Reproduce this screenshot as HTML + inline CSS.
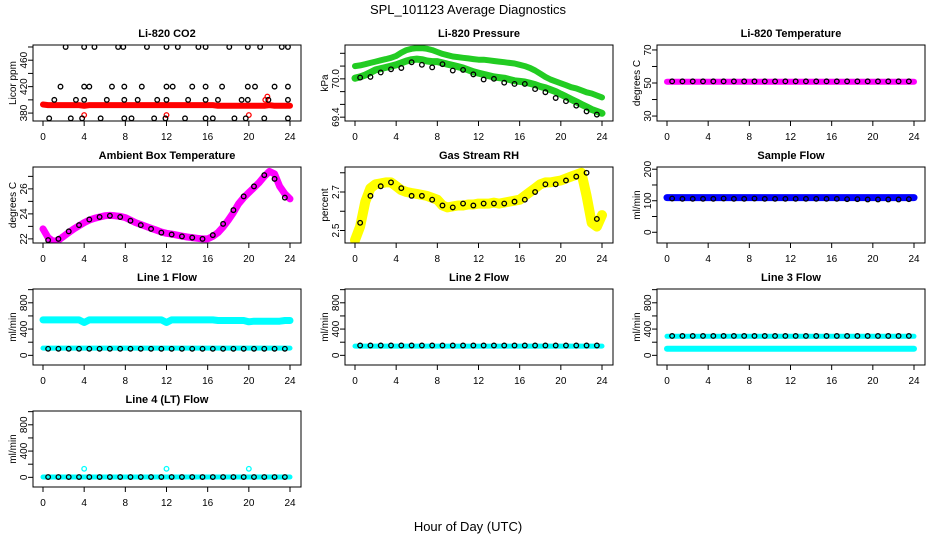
<!DOCTYPE html>
<html><head><meta charset="utf-8"><style>
html,body{margin:0;padding:0;background:#fff}
svg{display:block;font-family:"Liberation Sans",sans-serif}
</style></head><body>
<svg id="chart" width="936" height="540" viewBox="0 0 936 540">
<text x="468" y="14" text-anchor="middle" font-size="13">SPL_101123  Average Diagnostics</text>
<text x="468" y="531" text-anchor="middle" font-size="13">Hour of Day (UTC)</text>
</svg>
<script>
// ---- data ----
const xTicks = [0,4,8,12,16,20,24];
const T49 = [0,0.5,1,1.5,2,2.5,3,3.5,4,4.5,5,5.5,6,6.5,7,7.5,8,8.5,9,9.5,10,10.5,11,11.5,12,12.5,13,13.5,14,14.5,15,15.5,16,16.5,17,17.5,18,18.5,19,19.5,20,20.5,21,21.5,22,22.5,23,23.5,24];
const Thr = [0.5,1.5,2.5,3.5,4.5,5.5,6.5,7.5,8.5,9.5,10.5,11.5,12.5,13.5,14.5,15.5,16.5,17.5,18.5,19.5,20.5,21.5,22.5,23.5];

const co2Red = [393,392,392,392,392,392,392,392,391,392,392,392,392,392,392,392,392,392,392,392,392,392,392,392,392,392,392,392,392,392,392,392,392,392,391,391,391,391,391,391,391,391,391,391,392,391,391,391,391];
const co2RedOutT = [4,12,20,21.6,21.8];
const co2RedOut = [377,377,377,400,405];
const co2BlackT = [2.2,4,5,7.3,7.8,10.1,12,13.1,15.1,15.8,18.1,19.9,21.1,23.2,23.8, 1.7,4,4.5,6.7,7.9,9.6,12,12.6,14.5,15.8,17.4,19.9,20.6,22.5,23.8, 1.1,3.2,4,6.2,7.9,9.2,11.1,12,14.1,15.8,17,19.3,19.9,21.9,23.8, 0.6,2.7,3.8,5.6,7.9,8.6,10.8,11.9,13.8,15.8,16.5,18.6,19.7,21.5,23.8];
const co2Black = [480,480,480,480,480,480,480,480,480,480,480,480,480,480,480, 420,420,420,420,420,420,420,420,420,420,420,420,420,420,420, 400,400,400,400,400,400,400,400,400,400,400,400,400,400,400, 372,372,372,372,372,372,372,372,372,372,372,372,372,372,372];

const presUpper = [70.20,70.21,70.23,70.25,70.27,70.29,70.31,70.33,70.36,70.41,70.45,70.47,70.48,70.48,70.47,70.45,70.42,70.39,70.37,70.35,70.34,70.33,70.32,70.31,70.30,70.30,70.29,70.28,70.27,70.26,70.25,70.24,70.22,70.20,70.17,70.13,70.08,70.03,69.99,69.96,69.93,69.90,69.87,69.85,69.82,69.79,69.77,69.74,69.71];
const presLower = [70.01,70.03,70.06,70.10,70.14,70.16,70.18,70.20,70.22,70.25,70.28,70.30,70.31,70.30,70.28,70.27,70.27,70.25,70.23,70.21,70.19,70.17,70.14,70.11,70.09,70.07,70.05,70.03,70.02,70.01,69.99,69.97,69.96,69.95,69.93,69.91,69.88,69.86,69.83,69.80,69.76,69.72,69.68,69.64,69.60,69.56,69.52,69.49,69.46];
const presBlack = [70.02,70.03,70.10,70.15,70.17,70.26,70.22,70.18,70.23,70.13,70.14,70.07,69.99,70.00,69.94,69.92,69.92,69.84,69.79,69.70,69.65,69.58,69.49,69.44];

const tempMag = Array(49).fill(50.8);
const tempBlack = [51,51,51,51,51,51,51,51,51,51,51,51,51,51,51,51,51,51,51,51,51,51,51,51];

const ambMag = [22.8,22.1,21.8,21.9,22.2,22.5,22.8,23.05,23.3,23.5,23.65,23.75,23.85,23.88,23.85,23.8,23.7,23.5,23.3,23.15,23.0,22.85,22.7,22.55,22.45,22.38,22.3,22.22,22.15,22.1,22.05,22.0,22.0,22.2,22.5,22.95,23.5,24.1,24.8,25.3,25.7,26.1,26.5,27.0,27.4,27.2,26.2,25.6,25.2];
const ambBlack = [21.9,22.0,22.6,23.1,23.55,23.75,23.85,23.75,23.45,23.1,22.8,22.5,22.35,22.2,22.1,22.0,22.3,23.2,24.3,25.4,26.2,27.1,26.8,25.3];

const rhYel = [2.45,2.52,2.65,2.72,2.74,2.745,2.75,2.75,2.73,2.71,2.70,2.695,2.69,2.685,2.68,2.67,2.66,2.63,2.62,2.625,2.63,2.63,2.635,2.635,2.64,2.64,2.64,2.645,2.64,2.645,2.65,2.655,2.66,2.68,2.70,2.72,2.74,2.75,2.75,2.755,2.76,2.77,2.78,2.79,2.80,2.68,2.54,2.52,2.58];
const rhBlack = [2.54,2.68,2.73,2.75,2.72,2.68,2.68,2.66,2.63,2.62,2.64,2.63,2.64,2.64,2.64,2.65,2.66,2.70,2.74,2.74,2.76,2.78,2.80,2.56];

const sampBlue = Array(49).fill(110);
const sampBlack = [107,106,106,106,106,107,106,106,107,106,106,106,106,106,106,106,106,105,105,104,104,104,104,105];

const l1CyanHi = [540,540,540,540,540,540,540,540,500,540,540,540,540,540,540,540,540,540,540,540,540,540,540,540,500,540,540,540,540,540,540,540,540,540,530,530,530,530,530,530,510,520,520,520,520,520,520,530,530];
const l1CyanLo = Array(49).fill(110);
const l1Black = Array(24).fill(100);
const l2Cyan = Array(49).fill(140);
const l2Black = Array(24).fill(150);
const l3CyanHi = Array(49).fill(290);
const l3CyanLo = Array(49).fill(100);
const l3Black = Array(24).fill(295);
const l4Cyan = Array(49).fill(5);
const l4CyanOutT = [4,12,20];
const l4CyanOut = [130,130,130];
const l4Black = Array(24).fill(5);

const flowTicks = [0,200,400,600,800,1000];
const flowLabels = ["0","","400","","800",""];

// ---- drawing ----
const NS = "http://www.w3.org/2000/svg";
const svg = document.getElementById('chart');
function mk(tag, attrs, parent){ const e=document.createElementNS(NS,tag); for(const k in attrs) e.setAttribute(k,attrs[k]); (parent||svg).appendChild(e); return e; }

function panel(p){
  const g = mk('g',{});
  
  
  const L = 33 + 312*p.col, R = 301 + 312*p.col;
  const Tp = 45 + 122*p.row, B = 121 + 122*p.row;
  const x0 = 43 + 312*p.col, x1 = 290 + 312*p.col;
  const sx = t => x0 + (x1-x0)*t/24;
  const sy = v => B - (B-Tp)*(v-p.ylim[0])/(p.ylim[1]-p.ylim[0]);
  const title = mk('text',{x:(L+R)/2,y:Tp-8,'text-anchor':'middle','font-size':11,'font-weight':'bold'},g);
  title.textContent = p.title;
  
  
  const yl = mk('text',{transform:`translate(${16+312*p.col},${(Tp+B)/2}) rotate(-90)`,'text-anchor':'middle','font-size':10},g);
  yl.textContent = p.ylab;
  
  
  const clip = 'clip'+p.row+p.col;
  const cp = mk('clipPath',{id:clip},g); mk('rect',{x:L,y:Tp,width:R-L,height:B-Tp},cp);
  const dg = mk('g',{'clip-path':`url(#${clip})`},g);
  p.series.forEach(s=>{
    if(s.kind==='band'){
      const pts = s.t.map((t,i)=>sx(t).toFixed(1)+','+sy(s.v[i]).toFixed(1)).join(' ');
      const pl = mk('polyline',{points:pts,fill:'none',stroke:s.color,'stroke-width':s.w||7,'stroke-linejoin':'round','stroke-linecap':'round'},dg);
      
      
    } else {
      s.t.forEach((t,i)=>{
        const c = mk('circle',{cx:sx(t),cy:sy(s.v[i]),r:s.r||2.3,fill:'none',stroke:s.color,'stroke-width':s.sw||1.3},dg);
        
        
      });
    }
  });
  const box = mk('rect',{x:L,y:Tp,width:R-L,height:B-Tp,fill:'none',stroke:'#000','stroke-width':1},g);
  
  
  xTicks.forEach(t=>{
    mk('line',{x1:sx(t),x2:sx(t),y1:B,y2:B+5,stroke:'#000'},g);
    const tx = mk('text',{x:sx(t),y:B+19,'text-anchor':'middle','font-size':10},g);
    tx.textContent = t;
    
    
  });
  p.yticks.forEach((v,i)=>{
    mk('line',{x1:L-5,x2:L,y1:sy(v),y2:sy(v),stroke:'#000'},g);
    if(p.ylabels[i]!==''){
      const ty = mk('text',{transform:`translate(${L-6},${sy(v)}) rotate(-90)`,'text-anchor':'middle','font-size':10},g);
      ty.textContent = p.ylabels[i];
      
      
    }
  });
}

panel({name:'panel-co2',title:'Li-820 CO2',ylab:'Licor ppm',row:0,col:0,ylim:[368,483],
  yticks:[380,400,420,440,460,480],ylabels:['380','','420','','460',''],
  series:[{kind:'band',t:T49,v:co2Red,color:'#ff0000',w:6,name:'co2-red-series'},
          {kind:'pts',t:co2RedOutT,v:co2RedOut,color:'#ff0000',name:'co2-red-outlier'},
          {kind:'pts',t:co2BlackT,v:co2Black,color:'#000',name:'co2-black-point'}]});
panel({name:'panel-pressure',title:'Li-820 Pressure',ylab:'kPa',row:0,col:1,ylim:[69.34,70.53],
  yticks:[69.4,69.6,69.8,70.0,70.2,70.4],ylabels:['69.4','','','70.0','',''],
  series:[{kind:'band',t:T49,v:presUpper,color:'#22cc22',w:6,name:'pressure-upper-green'},
          {kind:'band',t:T49,v:presLower,color:'#22cc22',w:7,name:'pressure-lower-green'},
          {kind:'pts',t:Thr,v:presBlack,color:'#000',name:'pressure-black-point'}]});
panel({name:'panel-li820-temp',title:'Li-820 Temperature',ylab:'degrees C',row:0,col:2,ylim:[27,73],
  yticks:[30,40,50,60,70],ylabels:['30','','50','','70'],
  series:[{kind:'band',t:T49,v:tempMag,color:'#ff00ff',w:6,name:'li820-temp-magenta'},
          {kind:'pts',t:Thr,v:tempBlack,color:'#000',name:'li820-temp-black-point'}]});
panel({name:'panel-ambient',title:'Ambient Box Temperature',ylab:'degrees C',row:1,col:0,ylim:[21.67,27.75],
  yticks:[22,23,24,25,26,27],ylabels:['22','','24','','26',''],
  series:[{kind:'band',t:T49,v:ambMag,color:'#ff00ff',w:7,name:'ambient-magenta'},
          {kind:'pts',t:Thr,v:ambBlack,color:'#000',name:'ambient-black-point'}]});
panel({name:'panel-rh',title:'Gas Stream RH',ylab:'percent',row:1,col:1,ylim:[2.435,2.83],
  yticks:[2.5,2.6,2.7,2.8],ylabels:['2.5','','2.7',''],
  series:[{kind:'band',t:T49,v:rhYel,color:'#ffff00',w:10,name:'rh-yellow'},
          {kind:'pts',t:Thr,v:rhBlack,color:'#000',name:'rh-black-point'}]});
panel({name:'panel-sample-flow',title:'Sample Flow',ylab:'ml/min',row:1,col:2,ylim:[-34,207],
  yticks:[0,50,100,150,200],ylabels:['0','','100','','200'],
  series:[{kind:'band',t:T49,v:sampBlue,color:'#0000ff',w:7,name:'sample-flow-blue'},
          {kind:'pts',t:Thr,v:sampBlack,color:'#000',name:'sample-flow-black-point'}]});
panel({name:'panel-line1',title:'Line 1 Flow',ylab:'ml/min',row:2,col:0,ylim:[-147,1010],
  yticks:flowTicks,ylabels:flowLabels,
  series:[{kind:'band',t:T49,v:l1CyanHi,color:'#00ffff',w:7,name:'line1-cyan-high'},
          {kind:'band',t:T49,v:l1CyanLo,color:'#00ffff',w:5,name:'line1-cyan-low'},
          {kind:'pts',t:Thr,v:l1Black,color:'#000',name:'line1-black-point'}]});
panel({name:'panel-line2',title:'Line 2 Flow',ylab:'ml/min',row:2,col:1,ylim:[-147,1010],
  yticks:flowTicks,ylabels:flowLabels,
  series:[{kind:'band',t:T49,v:l2Cyan,color:'#00ffff',w:5,name:'line2-cyan'},
          {kind:'pts',t:Thr,v:l2Black,color:'#000',name:'line2-black-point'}]});
panel({name:'panel-line3',title:'Line 3 Flow',ylab:'ml/min',row:2,col:2,ylim:[-147,1010],
  yticks:flowTicks,ylabels:flowLabels,
  series:[{kind:'band',t:T49,v:l3CyanHi,color:'#00ffff',w:5,name:'line3-cyan-high'},
          {kind:'band',t:T49,v:l3CyanLo,color:'#00ffff',w:6,name:'line3-cyan-low'},
          {kind:'pts',t:Thr,v:l3Black,color:'#000',name:'line3-black-point'}]});
panel({name:'panel-line4',title:'Line 4 (LT) Flow',ylab:'ml/min',row:3,col:0,ylim:[-147,1010],
  yticks:flowTicks,ylabels:flowLabels,
  series:[{kind:'band',t:T49,v:l4Cyan,color:'#00ffff',w:5,name:'line4-cyan'},
          {kind:'pts',t:l4CyanOutT,v:l4CyanOut,color:'#00ffff',name:'line4-cyan-outlier'},
          {kind:'pts',t:Thr,v:l4Black,color:'#000',name:'line4-black-point'}]});
</script>
</body></html>
